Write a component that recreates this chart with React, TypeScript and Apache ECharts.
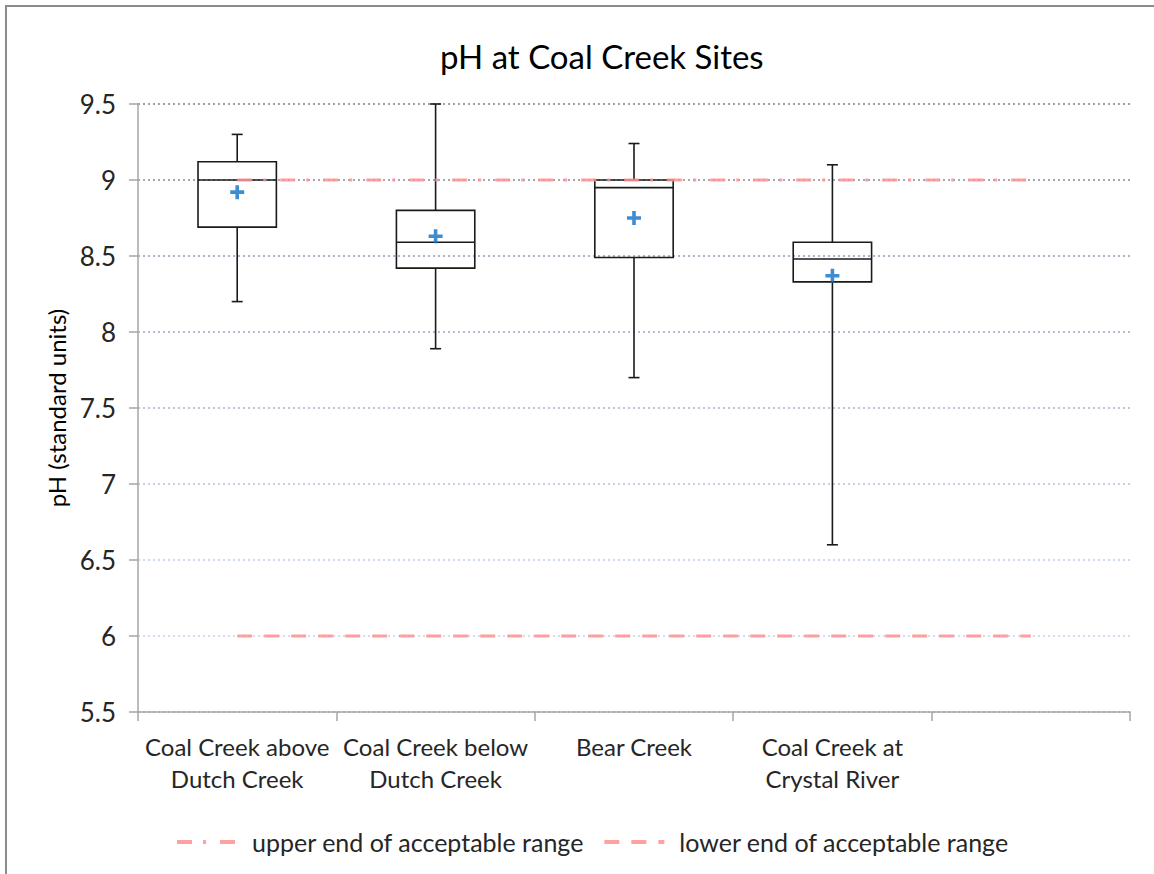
import React, { useEffect, useRef } from "react";
import * as echarts from "echarts";

const categories = [
  "Coal Creek above\nDutch Creek",
  "Coal Creek below\nDutch Creek",
  "Bear Creek",
  "Coal Creek at\nCrystal River",
  "",
];
const whiskerLow = [8.2, 7.89, 7.7, 6.6];
const quartile1 = [8.69, 8.42, 8.49, 8.33];
const median = [9.0, 8.59, 8.95, 8.48];
const quartile3 = [9.12, 8.8, 9.0, 8.59];
const whiskerHigh = [9.3, 9.5, 9.24, 9.1];
const mean = [8.92, 8.63, 8.75, 8.37];
const upperLimit = [9, 9, 9, 9, 9];
const lowerLimit = [6, 6, 6, 6, 6];
const yTicks = { min: 5.5, max: 9.5, interval: 0.5 };

const FONT = "Lato";
const TEXT = "#262626";

export default function App() {
  const ref = useRef<HTMLDivElement>(null);
  useEffect(() => {
    if (!ref.current) return;
    const chart = echarts.init(ref.current, null, { renderer: "svg" });
    const boxData = whiskerLow.map((_, i) => [
      i,
      whiskerLow[i],
      quartile1[i],
      median[i],
      quartile3[i],
      whiskerHigh[i],
    ]);
    const stroke = { stroke: "#1a1a1a", lineWidth: 1.6, fill: "none" };
    const option: any = {
      animation: false,
      backgroundColor: "#ffffff",
      textStyle: { fontFamily: FONT },
      title: {
        text: "pH at Coal Creek Sites",
        left: 435,
        top: 34,
        textStyle: { fontFamily: FONT, fontSize: 33, fontWeight: "normal", color: "#000" },
      },
      graphic: [
        {
          type: "rect",
          shape: { x: 6, y: 6, width: 1170, height: 890 },
          style: { fill: "none", stroke: "#8c8c8c", lineWidth: 2 },
          silent: true,
        },
      ],
      legend: {
        data: ["upper end of acceptable range", "lower end of acceptable range"],
        left: 170,
        top: 822,
        itemWidth: 60,
        itemHeight: 20,
        itemGap: 18,
        itemStyle: { opacity: 0 },
        lineStyle: { width: 4 },
        textStyle: {
          fontFamily: FONT,
          fontSize: 25,
          lineHeight: 30,
          color: TEXT,
          padding: [0, 0, 0, 10],
        },
      },
      grid: { left: 138, right: 24, top: 104, bottom: 162, containLabel: false },
      xAxis: {
        type: "category",
        data: categories,
        boundaryGap: true,
        axisLine: { lineStyle: { color: "#a6a6a6", width: 1.5 } },
        axisTick: { show: true, length: 9, lineStyle: { color: "#a6a6a6", width: 1.5 } },
        axisLabel: {
          interval: 0,
          margin: 18,
          fontFamily: FONT,
          fontSize: 24,
          lineHeight: 32,
          color: TEXT,
        },
        splitLine: { show: false },
      },
      yAxis: {
        type: "value",
        min: yTicks.min,
        max: yTicks.max,
        interval: yTicks.interval,
        name: "pH (standard units)",
        nameLocation: "middle",
        nameGap: 70,
        nameTextStyle: { fontFamily: FONT, fontSize: 24, color: "#000" },
        axisLine: { show: true, lineStyle: { color: "#a6a6a6", width: 1.5 } },
        axisTick: { show: true, length: 9, lineStyle: { color: "#a6a6a6", width: 1.5 } },
        axisLabel: { margin: 22, fontFamily: FONT, fontSize: 26, color: TEXT },
        splitLine: {
          show: true,
          lineStyle: {
            type: [2, 3],
            width: 2,
            color: [
              "#c0c0c0",
              "#d2ddf0",
              "#cbd8ee",
              "#c4d0e6",
              "#bcc7dc",
              "#b4bdd0",
              "#adb3c2",
              "#a6a8ae",
              "#a0a0a0",
            ],
          },
        },
      },
      series: [
        {
          type: "custom",
          name: "box",
          data: boxData,
          encode: { x: 0, y: [1, 2, 3, 4, 5] },
          z: 2,
          renderItem: (params: any, api: any) => {
            const x = api.value(0);
            const pMin = api.coord([x, api.value(1)]);
            const pQ1 = api.coord([x, api.value(2)]);
            const pMed = api.coord([x, api.value(3)]);
            const pQ3 = api.coord([x, api.value(4)]);
            const pMax = api.coord([x, api.value(5)]);
            const bw = api.size([1, 0])[0] * 0.395;
            const cx = pMed[0];
            const cap = 5.5;
            return {
              type: "group",
              children: [
                { type: "line", shape: { x1: cx, y1: pQ3[1], x2: cx, y2: pMax[1] }, style: stroke },
                { type: "line", shape: { x1: cx - cap, y1: pMax[1], x2: cx + cap, y2: pMax[1] }, style: stroke },
                { type: "line", shape: { x1: cx, y1: pQ1[1], x2: cx, y2: pMin[1] }, style: stroke },
                { type: "line", shape: { x1: cx - cap, y1: pMin[1], x2: cx + cap, y2: pMin[1] }, style: stroke },
                {
                  type: "rect",
                  shape: { x: cx - bw / 2, y: pQ3[1], width: bw, height: pQ1[1] - pQ3[1] },
                  style: stroke,
                },
                {
                  type: "line",
                  shape: { x1: cx - bw / 2, y1: pMed[1], x2: cx + bw / 2, y2: pMed[1] },
                  style: stroke,
                },
              ],
            };
          },
        },
        {
          type: "line",
          name: "upper end of acceptable range",
          data: upperLimit,
          symbol: "none",
          z: 3,
          lineStyle: { color: "#ff9090", width: 3, opacity: 0.85, type: [15, 11, 3, 14] },
          itemStyle: { color: "#ff9090" },
        },
        {
          type: "line",
          name: "lower end of acceptable range",
          data: lowerLimit,
          symbol: "none",
          z: 3,
          lineStyle: { color: "#ff9090", width: 3, opacity: 0.85, type: [15, 12] },
          itemStyle: { color: "#ff9090" },
        },
        {
          type: "scatter",
          name: "mean",
          data: mean.map((v, i) => [i, v]),
          symbol: "path://M5.2,0H8.8V5.2H14V8.8H8.8V14H5.2V8.8H0V5.2H5.2Z",
          symbolSize: 14,
          z: 4,
          itemStyle: { color: "#0f6fc6" },
        },
      ],
    };
    chart.setOption(option);
    return () => chart.dispose();
  }, []);
  return (
    <div
      ref={ref}
      style={{ position: "absolute", left: 0, top: 0, width: 1154, height: 874 }}
    />
  );
}
